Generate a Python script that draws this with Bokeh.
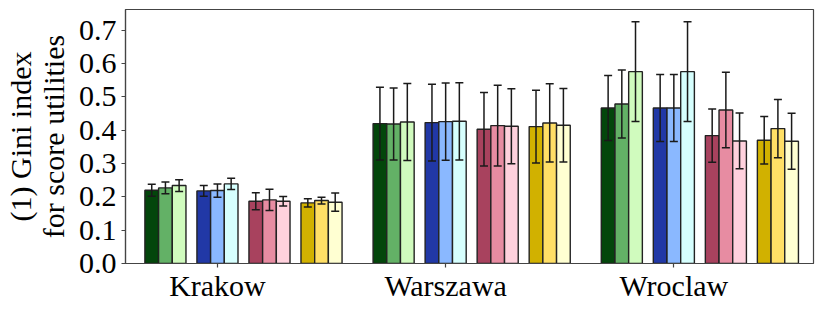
from bokeh.plotting import figure
from bokeh.models import (ColumnDataSource, Whisker, TeeHead, FixedTicker,
                          NumeralTickFormatter, Range1d)
from bokeh.embed import file_html
from bokeh.resources import INLINE

cities = ["Krakow", "Warszawa", "Wroclaw"]
y_ticks = [0.0, 0.1, 0.2, 0.3, 0.4, 0.5, 0.6, 0.7]
y_label = "(1) Gini index\nfor score utilities"

# values per series (Krakow, Warszawa, Wroclaw)
green_1 = [0.220, 0.420, 0.467]
green_2 = [0.227, 0.419, 0.479]
green_3 = [0.234, 0.425, 0.576]
blue_1 = [0.218, 0.423, 0.467]
blue_2 = [0.219, 0.426, 0.467]
blue_3 = [0.239, 0.427, 0.576]
pink_1 = [0.187, 0.403, 0.384]
pink_2 = [0.191, 0.414, 0.461]
pink_3 = [0.187, 0.412, 0.368]
yellow_1 = [0.182, 0.411, 0.370]
yellow_2 = [0.189, 0.422, 0.405]
yellow_3 = [0.184, 0.415, 0.367]

# error half-widths
green_1_err = [0.018, 0.109, 0.0975]
green_2_err = [0.0175, 0.108, 0.102]
green_3_err = [0.0175, 0.1155, 0.150]
blue_1_err = [0.016, 0.115, 0.1005]
blue_2_err = [0.020, 0.116, 0.1005]
blue_3_err = [0.017, 0.116, 0.150]
pink_1_err = [0.0255, 0.1105, 0.080]
pink_2_err = [0.032, 0.121, 0.1135]
pink_3_err = [0.014, 0.1125, 0.0835]
yellow_1_err = [0.0125, 0.109, 0.0715]
yellow_2_err = [0.010, 0.1175, 0.0875]
yellow_3_err = [0.0275, 0.1105, 0.084]

series = [
    [(green_1, green_1_err), (green_2, green_2_err), (green_3, green_3_err)],
    [(blue_1, blue_1_err), (blue_2, blue_2_err), (blue_3, blue_3_err)],
    [(pink_1, pink_1_err), (pink_2, pink_2_err), (pink_3, pink_3_err)],
    [(yellow_1, yellow_1_err), (yellow_2, yellow_2_err), (yellow_3, yellow_3_err)],
]
colors = [
    ["#03460B", "#63B166", "#D0FBBE"],
    ["#2138A6", "#8AB8FF", "#D6FFFE"],
    ["#A8425E", "#E78CA2", "#FFD1DD"],
    ["#D1B100", "#FFDF66", "#FFFFD2"],
]

FONT = "Liberation Serif"
bar_w = 0.06
fam_pitch = 0.228
y_max = 0.7626

p = figure(width=815, height=304, output_backend="svg", toolbar_location=None,
           x_range=Range1d(-0.403, 2.612), y_range=Range1d(0, y_max),
           min_border_left=115, min_border_right=2, min_border_top=9, min_border_bottom=39)
p.xgrid.visible = False
p.ygrid.visible = False
p.background_fill_color = "white"
p.border_fill_color = "white"
p.outline_line_color = "#444444"
p.outline_line_width = 1.2

for fi, fam in enumerate(series):
    for si, (vals, errs) in enumerate(fam):
        xs = [ci + (fi - 1) * fam_pitch + (si - 1) * bar_w for ci in range(len(cities))]
        src = ColumnDataSource(dict(
            x=xs, top=vals,
            upper=[v + e for v, e in zip(vals, errs)],
            lower=[v - e for v, e in zip(vals, errs)],
        ))
        p.vbar(x="x", top="top", bottom=0, width=bar_w, source=src,
               fill_color=colors[fi][si], line_color="#222222", line_width=1.4)
        w = Whisker(base="x", upper="upper", lower="lower", source=src,
                    level="annotation",
                    line_color="#1a1a1a", line_width=1.5,
                    upper_head=TeeHead(size=8, line_color="#1a1a1a", line_width=1.5),
                    lower_head=TeeHead(size=8, line_color="#1a1a1a", line_width=1.5))
        p.add_layout(w)

p.xaxis.ticker = FixedTicker(ticks=list(range(len(cities))))
p.xaxis.major_label_overrides = {i: c for i, c in enumerate(cities)}
p.yaxis.ticker = FixedTicker(ticks=y_ticks)
p.yaxis.formatter = NumeralTickFormatter(format="0.0")

for ax in (p.xaxis[0], p.yaxis[0]):
    ax.major_label_text_font = FONT
    ax.major_label_text_font_size = "30px"
    ax.major_label_text_color = "black"
    ax.minor_tick_line_color = None
    ax.major_tick_in = 0
    ax.major_tick_out = 4
    ax.major_tick_line_color = "#444444"
    ax.major_tick_line_width = 1.2
    ax.axis_line_color = "#444444"
    ax.axis_line_width = 1.2

p.xaxis.major_label_standoff = 1
p.yaxis.major_label_standoff = 5
p.yaxis.axis_label = y_label
p.yaxis.axis_label_text_font = FONT
p.yaxis.axis_label_text_font_size = "30px"
p.yaxis.axis_label_text_font_style = "normal"
p.yaxis.axis_label_text_color = "black"
p.yaxis.axis_label_text_line_height = 1.0
p.yaxis.axis_label_standoff = 6

open("out.html", "w").write(file_html(p, INLINE))
